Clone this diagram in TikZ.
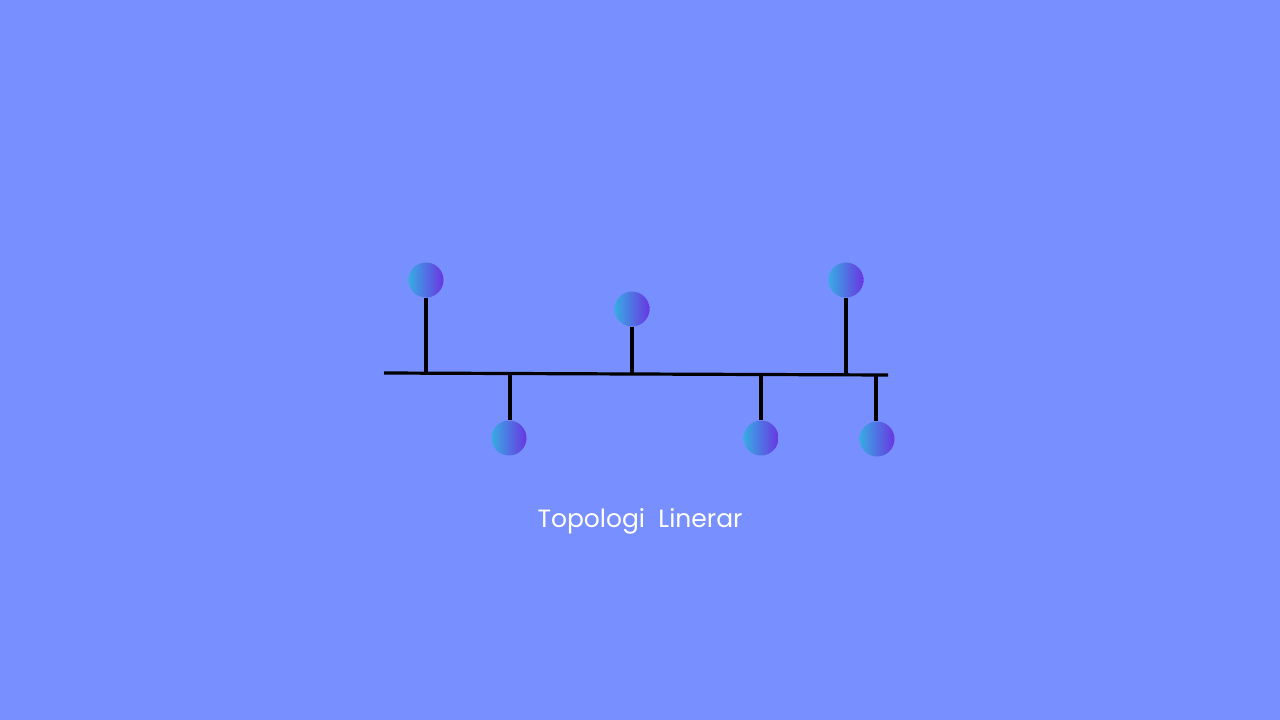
\documentclass[tikz,border=0pt]{standalone}
\usepackage{fontspec}
\setmainfont{Poppins}
\definecolor{bg}{HTML}{7890FF}
\definecolor{nodeL}{HTML}{38ABE3}
\definecolor{nodeR}{HTML}{6A35E2}
\tikzset{
  host/.style={circle, minimum size=35pt, inner sep=0pt, shading=axis, left color=nodeL, right color=nodeR, shading angle=90},
  wire/.style={line width=3.2pt, black},
}
\begin{document}
\begin{tikzpicture}[x=1pt,y=-1pt]
\fill[bg] (0,0) rectangle (1280,720);
\useasboundingbox (0,0) rectangle (1280,720);
\coordinate (busL) at (384,373);
\coordinate (busR) at (888,375);
\draw[wire] (busL) -- (busR);
\node[host] (h1) at (426,280) {};
\node[host] (h2) at (632,309) {};
\node[host] (h3) at (846,280) {};
\node[host] (h4) at (509,438) {};
\node[host] (h5) at (761,438) {};
\node[host] (h6) at (877,439) {};
\coordinate (t1) at (426,373.3);
\coordinate (t2) at (632,374.1);
\coordinate (t3) at (846,375);
\coordinate (t4) at (510,373.6);
\coordinate (t5) at (761,374.6);
\coordinate (t6) at (876,375);
\draw[wire] (h1.south) -- (t1);
\draw[wire] (h2.south) -- (t2);
\draw[wire] (h3.south) -- (t3);
\draw[wire] (t4) -- (h4.north -| t4);
\draw[wire] (t5) -- (h5.north);
\draw[wire] (t6) -- (h6.north -| t6);
\node[text=white, font=\fontsize{25}{29}\selectfont] (title) at (640,521) {Topologi\ \ Linerar};
\end{tikzpicture}
\end{document}
